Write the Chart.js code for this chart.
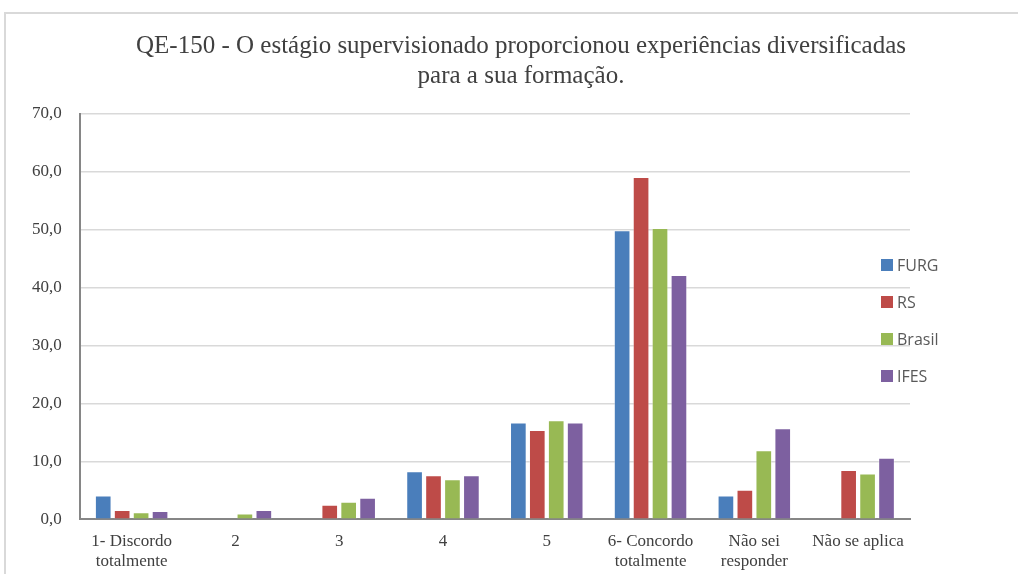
<!DOCTYPE html>
<html>
<head>
<meta charset="utf-8">
<script src="https://cdn.jsdelivr.net/npm/chart.js@4"></script>
<style>
  html, body { margin: 0; padding: 0; background: #fff; width: 1018px; height: 574px; overflow: hidden; }
  #frame {
    position: absolute; left: 4px; top: 12px; width: 1030px; height: 580px;
    border: 2px solid #d9d9d9; box-sizing: border-box;
  }
  #wrap { position: absolute; left: 0; top: 0; width: 1018px; height: 584px; }
</style>
</head>
<body>
<div id="frame"></div>
<div id="wrap"><canvas id="chart"></canvas></div>
<script>
// categories and values (percent)
var categories = [
    ['1- Discordo', 'totalmente'], '2', '3', '4', '5',
    ['6- Concordo', 'totalmente'], ['Não sei', 'responder'], 'Não se aplica'
];
var seriesNames = ['FURG', 'RS', 'Brasil', 'IFES'];
var furgValues   = [4.1, 0, 0, 8.3, 16.7, 49.9, 4.1, 0];
var rsValues     = [1.6, 0, 2.5, 7.6, 15.4, 59.1, 5.1, 8.5];
var brasilValues = [1.2, 1.0, 3.0, 6.9, 17.1, 50.3, 11.9, 7.9];
var ifesValues   = [1.4, 1.6, 3.7, 7.6, 16.7, 42.2, 15.7, 10.6];
var yTicks = [0, 10, 20, 30, 40, 50, 60, 70];
var titleLines = ['QE-150 - O estágio supervisionado proporcionou experiências diversificadas', 'para a sua formação.'];

var colors = ['#4a7ebb', '#be4b48', '#98b954', '#7d60a0'];
var serif = '"Liberation Serif", "DejaVu Serif", serif';

function makeSet(i, values) {
    return {
        label: seriesNames[i],
        data: values,
        backgroundColor: colors[i],
        borderColor: 'rgba(255,255,255,0.35)',
        borderWidth: 1,
        borderSkipped: 'bottom',
        barPercentage: 0.88,
        categoryPercentage: 0.73
    };
}

// title and legend drawn by hand so they can sit where the original has them
var decorations = {
    id: 'decorations',
    afterDraw: function (chart) {
        var ctx = chart.ctx;
        ctx.save();
        ctx.fillStyle = '#404040';
        ctx.font = '25px ' + serif;
        ctx.textAlign = 'center';
        ctx.textBaseline = 'middle';
        titleLines.forEach(function (line, i) {
            ctx.fillText(line, 521, 46 + i * 30);
        });
        ctx.font = '16px "Open Sans", "DejaVu Sans", sans-serif';
        ctx.textAlign = 'left';
        chart.data.datasets.forEach(function (ds, i) {
            var y = 265 + i * 37;
            ctx.fillStyle = ds.backgroundColor;
            ctx.fillRect(881, y - 6, 12, 12);
            ctx.fillStyle = '#595959';
            ctx.fillText(ds.label, 897, y + 1);
        });
        ctx.restore();
    }
};

var ctx = document.getElementById('chart').getContext('2d');
new Chart(ctx, {
    type: 'bar',
    data: {
        labels: categories,
        datasets: [
            makeSet(0, furgValues),
            makeSet(1, rsValues),
            makeSet(2, brasilValues),
            makeSet(3, ifesValues)
        ]
    },
    options: {
        responsive: true,
        maintainAspectRatio: false,
        animation: false,
        layout: { padding: { left: 14, right: 108, top: 114, bottom: 0 } },
        plugins: {
            legend: { display: false },
            title: { display: false },
            tooltip: { enabled: false }
        },
        scales: {
            x: {
                grid: { display: false, drawTicks: false },
                border: { color: '#868686', width: 2 },
                ticks: {
                    color: '#404040',
                    font: { family: serif, size: 17, lineHeight: 1.2 },
                    padding: 12,
                    maxRotation: 0,
                    autoSkip: false
                }
            },
            y: {
                min: 0,
                max: 70,
                afterBuildTicks: function (axis) {
                    axis.ticks = yTicks.map(function (v) { return { value: v }; });
                },
                grid: { color: '#d9d9d9', lineWidth: 1.5, drawTicks: false },
                border: { color: '#868686', width: 2 },
                ticks: {
                    color: '#404040',
                    font: { family: serif, size: 17 },
                    padding: 18,
                    callback: function (v) { return v.toFixed(1).replace('.', ','); }
                }
            }
        }
    },
    plugins: [decorations]
});
</script>
</body>
</html>
